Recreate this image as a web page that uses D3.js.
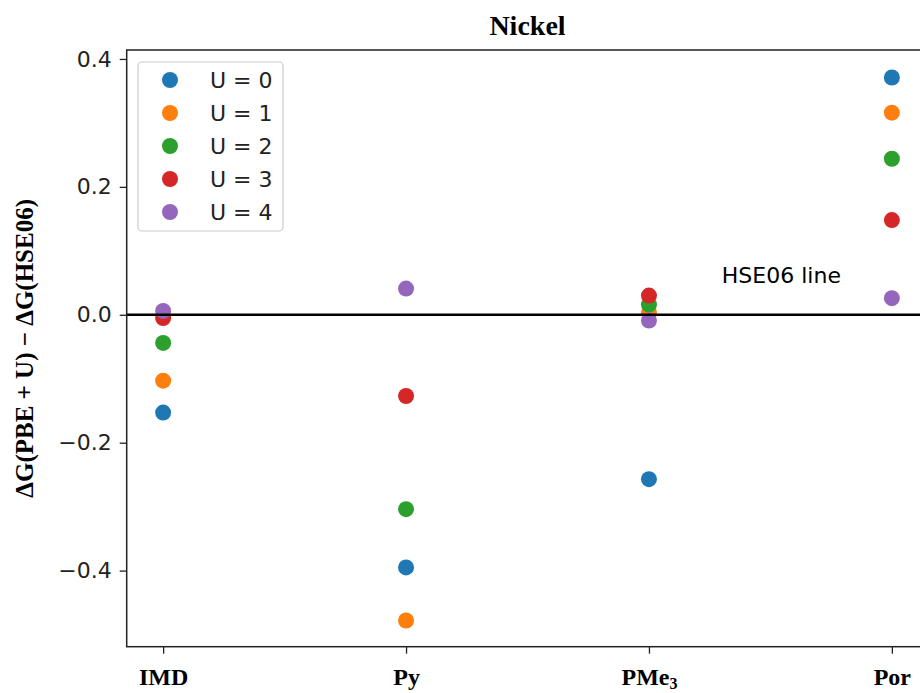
<!DOCTYPE html>
<html>
<head>
<meta charset="utf-8">
<script src="https://cdn.jsdelivr.net/npm/d3@7"></script>
<style>
  body { margin: 0; background: #fff; }
  svg { display: block; }
</style>
</head>
<body>
<svg id="chart" width="920" height="693"></svg>
<script>
// ligands on the x axis
const ligands = ["IMD", "Py", "PMe3", "Por"];
// one series per U value, values in ligand order
const seriesNames = ["U = 0", "U = 1", "U = 2", "U = 3", "U = 4"];
const u0 = [-0.153, -0.395, -0.257, 0.371];
const u1 = [-0.103, -0.478, 0.003, 0.316];
const u2 = [-0.044, -0.304, 0.016, 0.244];
const u3 = [-0.005, -0.127, 0.030, 0.148];
const u4 = [0.006, 0.041, -0.009, 0.026];
const seriesValues = [u0, u1, u2, u3, u4];
const colors = ["#1f77b4", "#ff7f0e", "#2ca02c", "#d62728", "#9467bd"];
const yTicks = [-0.4, -0.2, 0.0, 0.2, 0.4];

const svg = d3.select("#chart");
const plotLeft = 126.7, plotRight = 928.3, plotTop = 50, plotBottom = 646.7;

const x = d3.scalePoint()
    .domain(ligands)
    .range([plotLeft, plotRight])
    .padding(0.15);

const y = d3.scaleLinear()
    .domain([-0.519, 0.414])
    .range([plotBottom, plotTop]);

const tickFont = "'DejaVu Sans', sans-serif";
const serif = "'Liberation Serif', 'Times New Roman', serif";

// points, drawn series by series
seriesValues.forEach((vals, i) => {
    svg.append("g")
        .selectAll("circle")
        .data(vals)
        .join("circle")
        .attr("cx", (d, j) => x(ligands[j]))
        .attr("cy", d => y(d))
        .attr("r", 8)
        .attr("fill", colors[i]);
});

// HSE06 reference line
svg.append("line")
    .attr("x1", plotLeft).attr("x2", plotRight)
    .attr("y1", y(0)).attr("y2", y(0))
    .attr("stroke", "#000")
    .attr("stroke-width", 2.5);

svg.append("text")
    .attr("x", x("IMD") + (x("Py") - x("IMD")) * 2.3)
    .attr("y", y(0.05))
    .style("font-family", tickFont)
    .style("font-size", "22px")
    .attr("fill", "#000")
    .text("HSE06 line");

// frame
svg.append("rect")
    .attr("x", plotLeft).attr("y", plotTop)
    .attr("width", plotRight - plotLeft).attr("height", plotBottom - plotTop)
    .attr("fill", "none")
    .attr("stroke", "#222")
    .attr("stroke-width", 1.5);

// y axis
const yAxis = svg.append("g")
    .attr("transform", `translate(${plotLeft},0)`)
    .call(d3.axisLeft(y).tickValues(yTicks).tickSize(7).tickPadding(8)
        .tickFormat(d => d3.format(".1f")(d).replace("-", "\u2212")));
yAxis.select(".domain").remove();
yAxis.selectAll("line").attr("stroke", "#222").attr("stroke-width", 1.3);
yAxis.selectAll("text")
    .style("font-family", tickFont)
    .style("font-size", "22px")
    .attr("fill", "#222");

// x axis
const xAxis = svg.append("g")
    .attr("transform", `translate(0,${plotBottom})`)
    .call(d3.axisBottom(x).tickSize(7).tickFormat(""));
xAxis.select(".domain").remove();
xAxis.selectAll("line").attr("stroke", "#222").attr("stroke-width", 1.3);

// bold serif category labels, with subscript for PMe3
xAxis.selectAll(".tick").append("text")
    .attr("y", 38)
    .attr("text-anchor", "middle")
    .attr("fill", "#000")
    .style("font-family", serif)
    .style("font-size", "24px")
    .style("font-weight", "bold")
    .each(function (d) {
        const t = d3.select(this);
        const m = d.match(/^(\D+)(\d+)$/);
        if (m) {
            t.append("tspan").text(m[1]);
            t.append("tspan").attr("dy", 4).style("font-size", "16px").text(m[2]);
        } else {
            t.text(d);
        }
    });

// title
svg.append("text")
    .attr("x", (plotLeft + plotRight) / 2)
    .attr("y", 35)
    .attr("text-anchor", "middle")
    .style("font-family", serif)
    .style("font-size", "28px")
    .style("font-weight", "bold")
    .text("Nickel");

// y label
svg.append("text")
    .attr("transform", `translate(33,${(plotTop + plotBottom) / 2}) rotate(-90)`)
    .attr("text-anchor", "middle")
    .style("font-family", serif)
    .style("font-size", "25px")
    .style("font-weight", "bold")
    .text("\u0394G(PBE + U) \u2212 \u0394G(HSE06)");

// legend
const legend = svg.append("g");
legend.append("rect")
    .attr("x", 138).attr("y", 62)
    .attr("width", 145).attr("height", 169)
    .attr("rx", 4)
    .attr("fill", "#fff")
    .attr("fill-opacity", 0.8)
    .attr("stroke", "#ccc")
    .attr("stroke-width", 1.2);

const rows = legend.selectAll("g.row")
    .data(seriesNames)
    .join("g")
    .attr("class", "row")
    .attr("transform", (d, i) => `translate(0,${80 + i * 33})`);

rows.append("circle")
    .attr("cx", 170).attr("cy", 0).attr("r", 8)
    .attr("fill", (d, i) => colors[i]);

rows.append("text")
    .attr("x", 210).attr("y", 8)
    .style("font-family", tickFont)
    .style("font-size", "22px")
    .attr("fill", "#222")
    .text(d => d);
</script>
</body>
</html>
